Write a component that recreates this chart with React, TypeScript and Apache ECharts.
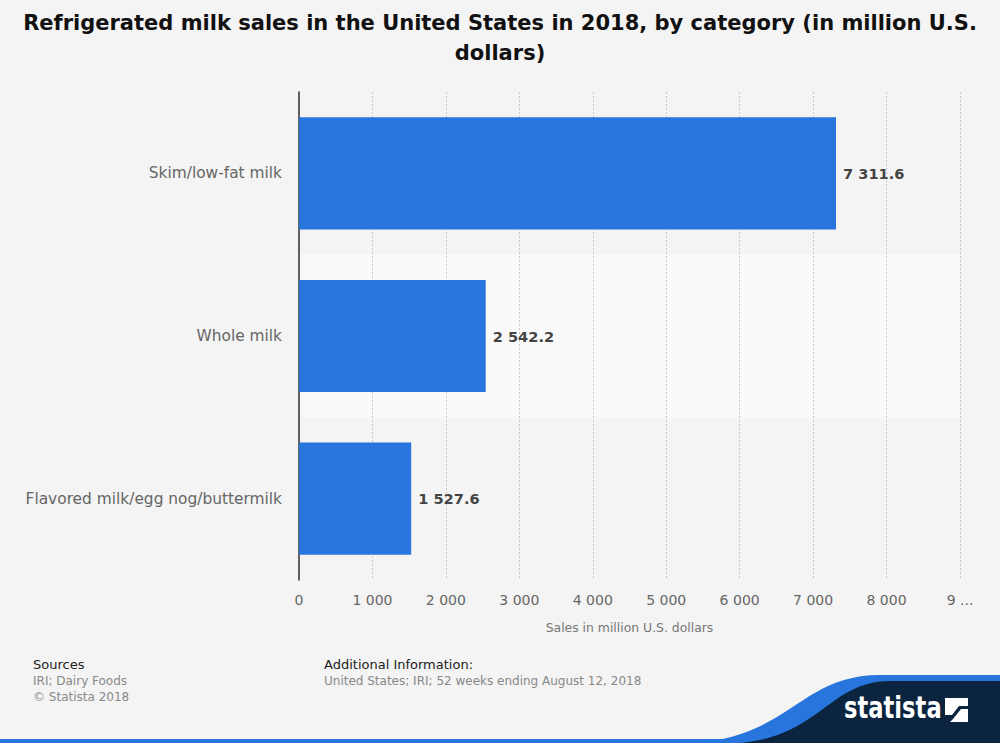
import React, { useEffect, useRef } from "react";
import * as echarts from "echarts";

const categories = ["Skim/low-fat milk", "Whole milk", "Flavored milk/egg nog/buttermilk"];
const values = [7311.6, 2542.2, 1527.6];
const titleText = "Refrigerated milk sales in the United States in 2018, by category (in million U.S.\ndollars)";
const axisName = "Sales in million U.S. dollars";

const fmt = (v: number, dec: number) => {
  const s = v.toFixed(dec);
  const [i, d] = s.split(".");
  const ii = i.replace(/\B(?=(\d{3})+(?!\d))/g, " ");
  return d ? ii + "." + d : ii;
};

echarts.graphic.registerShape(
  "waveBlue",
  echarts.graphic.extendPath("M690,743 C790,738 800,675 880,675 L1000,675 L1000,743 Z", {})
);
echarts.graphic.registerShape(
  "waveNavy",
  echarts.graphic.extendPath("M740,743 C820,736 830,681 890,681 L1000,681 L1000,743 Z", {})
);

export default function App() {
  const ref = useRef<HTMLDivElement>(null);
  useEffect(() => {
    const chart = echarts.init(ref.current!, null, { renderer: "svg" });
    const font = "DejaVu Sans";
    chart.setOption({
      animation: false,
      backgroundColor: "#f4f4f4",
      textStyle: { fontFamily: font },
      title: {
        text: titleText,
        left: "center",
        top: 3,
        textStyle: { fontFamily: font, fontSize: 21, fontWeight: "bold", color: "#111", lineHeight: 30 },
      },
      grid: { left: 299, right: 40, top: 92, bottom: 163, containLabel: false },
      xAxis: {
        type: "value",
        min: 0,
        max: 9000,
        interval: 1000,
        name: axisName,
        nameLocation: "middle",
        nameGap: 41,
        nameTextStyle: { fontSize: 12.4, color: "#777", fontFamily: font },
        axisLine: { show: false },
        axisTick: { show: false },
        axisLabel: {
          fontSize: 14,
          color: "#666",
          margin: 13,
          fontFamily: font,
          formatter: (v: number) => (v === 9000 ? "9 ..." : fmt(v, 0)),
        },
        splitLine: { show: true, lineStyle: { color: "#c8c8c8", type: [2, 2], width: 1 } },
      },
      yAxis: {
        type: "category",
        data: categories,
        inverse: true,
        axisLine: { show: true, lineStyle: { color: "#333", width: 1.5 } },
        axisTick: { show: false },
        axisLabel: { fontSize: 15.4, color: "#666", margin: 17, fontFamily: font },
        splitArea: { show: true, areaStyle: { color: ["rgba(0,0,0,0)", "#f9f9f9"] } },
      },
      series: [
        {
          type: "bar",
          data: values,
          barWidth: "69%",
          itemStyle: { color: "#2876dd" },
          label: {
            show: true,
            position: "right",
            distance: 7,
            fontSize: 14.6,
            fontWeight: "bold",
            color: "#444",
            fontFamily: font,
            formatter: (p: any) => fmt(p.value, 1),
          },
        },
      ],
      graphic: [
        { type: "text", left: 33, top: 658, style: { text: "Sources", fontSize: 13, fill: "#222", fontFamily: font } },
        { type: "text", left: 33, top: 675, style: { text: "IRI; Dairy Foods", fontSize: 12, fill: "#888", fontFamily: font } },
        { type: "text", left: 33, top: 691, style: { text: "© Statista 2018", fontSize: 12, fill: "#888", fontFamily: font } },
        { type: "text", left: 324, top: 658, style: { text: "Additional Information:", fontSize: 13, fill: "#222", fontFamily: font } },
        { type: "text", left: 324, top: 675, style: { text: "United States; IRI; 52 weeks ending August 12, 2018", fontSize: 12, fill: "#888", fontFamily: font } },
        { type: "rect", shape: { x: 0, y: 739, width: 1000, height: 4 }, style: { fill: "#2876dd" } },
        { type: "waveBlue", style: { fill: "#2876dd" } },
        { type: "waveNavy", style: { fill: "#0b2540" } },
        {
          type: "text",
          x: 844,
          y: 692,
          scaleX: 0.73,
          style: { text: "statista", fontSize: 31, fontWeight: "bold", fill: "#ffffff", fontFamily: font, verticalAlign: "top" },
        },
        { type: "rect", shape: { x: 945, y: 698, width: 23, height: 24 }, style: { fill: "#ffffff" } },
        {
          type: "polygon",
          shape: { points: [[945, 722], [945, 715], [952, 715], [959, 706], [968, 706], [968, 709], [961, 709], [953, 719], [950, 722]] },
          style: { fill: "#0b2540" },
        },
      ],
    });
    return () => chart.dispose();
  }, []);
  return <div ref={ref} style={{ position: "absolute", left: 0, top: 0, width: 1000, height: 743 }} />;
}
